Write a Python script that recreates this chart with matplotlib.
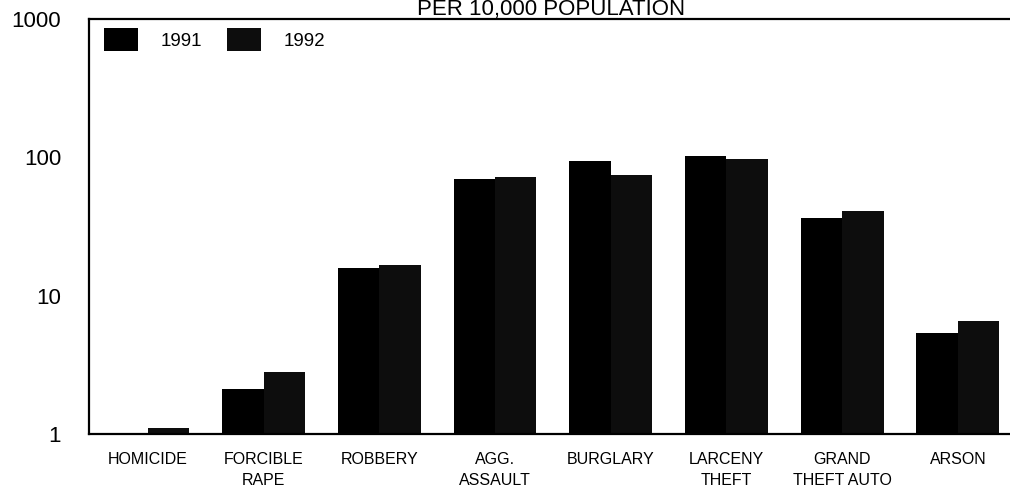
"""
Crime rates per 10,000 population, 1991 vs 1992 (log scale bar chart).
"""

import numpy as np
import matplotlib.pyplot as plt
from matplotlib.ticker import FixedLocator, FixedFormatter, NullLocator

plt.rcParams['font.family'] = ['Liberation Sans', 'DejaVu Sans']

# Data (rate per 10,000 population)
categories = ['HOMICIDE', 'FORCIBLE\nRAPE', 'ROBBERY', 'AGG.\nASSAULT',
              'BURGLARY', 'LARCENY\nTHEFT', 'GRAND\nTHEFT AUTO', 'ARSON']
rates_1991 = [0.95, 2.1, 15.9, 70, 94, 103, 36.6, 5.4]
rates_1992 = [1.11, 2.8, 16.7, 72.5, 74.6, 97.3, 40.7, 6.6]
series_labels = ['1991', '1992']
y_ticks = [1, 10, 100, 1000]
y_tick_labels = ['1', '10', '100', '1000']

fig = plt.figure(figsize=(10.1, 4.9), dpi=100)
ax = fig.add_axes([0.088, 0.1143, 0.912, 0.8469])

x = np.arange(len(categories))
w = 0.358
ax.bar(x - w / 2, rates_1991, width=w, color='#000000', label=series_labels[0])
ax.bar(x + w / 2, rates_1992, width=w, color='#0d0d0d', label=series_labels[1])

ax.set_yscale('log')
ax.set_ylim(1, 1000)
ax.set_xlim(-0.51, 7.45)
ax.yaxis.set_major_locator(FixedLocator(y_ticks))
ax.yaxis.set_major_formatter(FixedFormatter(y_tick_labels))
ax.yaxis.set_minor_locator(NullLocator())
ax.tick_params(axis='y', length=0, pad=20, labelsize=16)

ax.set_xticks(x)
ax.set_xticklabels(categories, fontsize=11.5, linespacing=1.5)
ax.tick_params(axis='x', length=0, pad=13)

for side in ['left', 'bottom', 'top']:
    ax.spines[side].set_linewidth(1.6)
ax.spines['right'].set_visible(False)

ax.legend(loc='upper left', ncol=2, frameon=False, fontsize=13.5,
          handlelength=1.8, handleheight=1.45, handletextpad=1.25,
          columnspacing=1.3, bbox_to_anchor=(0.006, 1.0),
          borderaxespad=0.2, borderpad=0.3)

fig.text(0.546, 1 - 15 / 490, 'PER 10,000 POPULATION', ha='center',
         va='baseline', fontsize=16)

plt.savefig('out.png', dpi=100)
